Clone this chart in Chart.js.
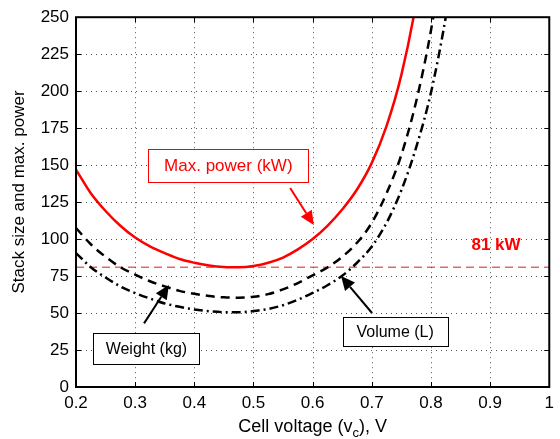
<!DOCTYPE html>
<html>
<head>
<meta charset="utf-8">
<script src="https://cdn.jsdelivr.net/npm/chart.js@4.4.1/dist/chart.umd.min.js"></script>
<style>
  html, body { margin: 0; padding: 0; background: #fff; }
  canvas { display: block; }
</style>
</head>
<body>
<canvas id="stack-chart" width="560" height="439"></canvas>
<script>
// cell voltage (V)
const voltage = [0.2, 0.225, 0.25, 0.275, 0.3, 0.325, 0.35, 0.375, 0.4, 0.425, 0.45, 0.475, 0.5,
    0.525, 0.55, 0.575, 0.6, 0.625, 0.65, 0.675, 0.7, 0.725, 0.75, 0.775, 0.8, 0.825, 0.85];

// max. power (kW)
const maxPower = [147, 131, 119, 109, 101, 95, 90.5, 86.5, 84, 82.2, 81.2, 81, 81.8,
    84, 87.5, 93, 100, 109, 120, 133.5, 151.5, 176.5, 211, 260, 329, null, null];

// stack weight (kg)
const weight = [107.5, 96.5, 88, 81, 76, 71.5, 68, 65, 63, 61.5, 60.6, 60.4, 61,
    62.8, 66, 70.3, 75.5, 80.8, 88, 97.5, 111, 131, 157, 193, 241, 305, null];

// stack volume (L)
const volume = [90.5, 81, 74, 68, 63.5, 59.8, 56.5, 54.2, 52.4, 51.2, 50.6, 50.6, 51.3,
    52.8, 55.3, 59, 63.6, 68.8, 75.2, 84, 95, 111, 133, 162, 199, 250, 315];

const powerLimit = 81;
const xTicks = [0.2, 0.3, 0.4, 0.5, 0.6, 0.7, 0.8, 0.9, 1];
const yTicks = [0, 25, 50, 75, 100, 125, 150, 175, 200, 225, 250];

const FONT = '"Liberation Sans", Arial, Helvetica, sans-serif';

// labels and arrows, in data coordinates
const boxes = [
    { text: 'Max. power (kW)', x0: 0.322, x1: 0.593, y0: 161, y1: 138.5, color: '#ff0000', size: 17 },
    { text: 'Weight (kg)', x0: 0.229, x1: 0.409, y0: 36.3, y1: 15.5, color: '#000', size: 16 },
    { text: 'Volume (L)', x0: 0.651, x1: 0.828, y0: 47.1, y1: 27.2, color: '#000', size: 16 }
];
const arrows = [
    { from: [0.562, 134.5], to: [0.602, 109.5], color: '#ff0000' },
    { from: [0.315, 43], to: [0.357, 69], color: '#000' },
    { from: [0.7, 50.2], to: [0.648, 75], color: '#000' }
];

function toPoints(ys) {
    return voltage.map((v, i) => ({ x: v, y: ys[i] }));
}

function drawArrow(ctx, x1, y1, x2, y2, color) {
    let ang = Math.atan2(y2 - y1, x2 - x1);
    let len = 14, half = 6.5;
    let bx = x2 - len * Math.cos(ang), by = y2 - len * Math.sin(ang);
    ctx.strokeStyle = color;
    ctx.fillStyle = color;
    ctx.lineWidth = 2;
    ctx.setLineDash([]);
    ctx.beginPath();
    ctx.moveTo(x1, y1);
    ctx.lineTo(bx, by);
    ctx.stroke();
    ctx.beginPath();
    ctx.moveTo(x2, y2);
    ctx.lineTo(bx + half * Math.sin(ang), by - half * Math.cos(ang));
    ctx.lineTo(bx - half * Math.sin(ang), by + half * Math.cos(ang));
    ctx.closePath();
    ctx.fill();
}

const matlabFrame = {
    id: 'matlabFrame',
    beforeDatasetsDraw(chart) {
        let { ctx, chartArea: a, scales: { x, y } } = chart;
        ctx.save();
        ctx.strokeStyle = '#555';
        ctx.lineWidth = 1;
        ctx.setLineDash([1, 4]);
        xTicks.slice(1, -1).forEach(t => {
            let px = Math.round(x.getPixelForValue(t)) + 0.5;
            ctx.beginPath(); ctx.moveTo(px, a.top); ctx.lineTo(px, a.bottom); ctx.stroke();
        });
        yTicks.slice(1, -1).forEach(t => {
            let py = Math.round(y.getPixelForValue(t)) + 0.5;
            ctx.beginPath(); ctx.moveTo(a.left, py); ctx.lineTo(a.right, py); ctx.stroke();
        });
        ctx.restore();
    },
    afterDatasetsDraw(chart) {
        let { ctx, chartArea: a, scales: { x, y } } = chart;
        ctx.save();

        // box and inner ticks
        ctx.setLineDash([]);
        ctx.strokeStyle = '#000';
        ctx.lineWidth = 1;
        xTicks.forEach(t => {
            let px = Math.round(x.getPixelForValue(t)) + 0.5;
            ctx.beginPath();
            ctx.moveTo(px, a.bottom); ctx.lineTo(px, a.bottom - 5);
            ctx.moveTo(px, a.top); ctx.lineTo(px, a.top + 5);
            ctx.stroke();
        });
        yTicks.forEach(t => {
            let py = Math.round(y.getPixelForValue(t)) + 0.5;
            ctx.beginPath();
            ctx.moveTo(a.left, py); ctx.lineTo(a.left + 5, py);
            ctx.moveTo(a.right, py); ctx.lineTo(a.right - 5, py);
            ctx.stroke();
        });
        ctx.lineWidth = 2;
        ctx.strokeRect(a.left, a.top, a.right - a.left, a.bottom - a.top);

        // text boxes
        boxes.forEach(b => {
            let l = x.getPixelForValue(b.x0), r = x.getPixelForValue(b.x1);
            let t = y.getPixelForValue(b.y0), btm = y.getPixelForValue(b.y1);
            ctx.fillStyle = '#fff';
            ctx.fillRect(l, t, r - l, btm - t);
            ctx.strokeStyle = b.color;
            ctx.lineWidth = 1;
            ctx.strokeRect(Math.round(l) + 0.5, Math.round(t) + 0.5, Math.round(r - l), Math.round(btm - t));
            ctx.fillStyle = b.color;
            ctx.font = b.size + 'px ' + FONT;
            ctx.textAlign = 'center';
            ctx.textBaseline = 'middle';
            ctx.fillText(b.text, (l + r) / 2, (t + btm) / 2 + 1);
        });

        arrows.forEach(ar => {
            drawArrow(ctx, x.getPixelForValue(ar.from[0]), y.getPixelForValue(ar.from[1]),
                x.getPixelForValue(ar.to[0]), y.getPixelForValue(ar.to[1]), ar.color);
        });

        // 81 kW label
        ctx.fillStyle = '#ff0000';
        ctx.font = 'bold 17px ' + FONT;
        ctx.textAlign = 'center';
        ctx.textBaseline = 'middle';
        ctx.fillText(powerLimit + ' kW', x.getPixelForValue(0.91), y.getPixelForValue(96));

        // axis titles
        ctx.fillStyle = '#000';
        ctx.font = '17px ' + FONT;
        ctx.save();
        ctx.translate(19, 192);
        ctx.rotate(-Math.PI / 2);
        ctx.fillText('Stack size and max. power', 0, 0);
        ctx.restore();

        let cx = (a.left + a.right) / 2;
        let base = 432;
        ctx.textBaseline = 'alphabetic';
        ctx.textAlign = 'left';
        let p1 = 'Cell voltage (v', sub = 'c', p2 = '), V';
        ctx.font = '18px ' + FONT;
        let w1 = ctx.measureText(p1).width, w3 = ctx.measureText(p2).width;
        ctx.font = '13px ' + FONT;
        let w2 = ctx.measureText(sub).width;
        let sx = cx - (w1 + w2 + w3) / 2;
        ctx.font = '18px ' + FONT;
        ctx.fillText(p1, sx, base);
        ctx.font = '13px ' + FONT;
        ctx.fillText(sub, sx + w1, base + 5);
        ctx.font = '18px ' + FONT;
        ctx.fillText(p2, sx + w1 + w2, base);

        ctx.restore();
    }
};

let ctx = document.getElementById('stack-chart').getContext('2d');
new Chart(ctx, {
    type: 'line',
    data: {
        datasets: [
            {
                label: 'Max. power (kW)',
                data: toPoints(maxPower),
                borderColor: '#ff0000',
                borderWidth: 2.5,
                cubicInterpolationMode: 'monotone'
            },
            {
                label: 'Weight (kg)',
                data: toPoints(weight),
                borderColor: '#000',
                borderWidth: 2.5,
                borderDash: [9, 6],
                cubicInterpolationMode: 'monotone'
            },
            {
                label: 'Volume (L)',
                data: toPoints(volume),
                borderColor: '#000',
                borderWidth: 2.5,
                borderDash: [9, 4, 2, 4],
                cubicInterpolationMode: 'monotone'
            },
            {
                label: '81 kW',
                data: [{ x: xTicks[0], y: powerLimit }, { x: xTicks[xTicks.length - 1], y: powerLimit }],
                borderColor: 'rgba(220,0,0,0.9)',
                borderWidth: 1,
                borderDash: [8, 5]
            }
        ]
    },
    options: {
        responsive: false,
        animation: false,
        devicePixelRatio: 1,
        layout: { padding: { top: 17, right: 4, left: 0, bottom: 0 } },
        elements: { point: { radius: 0 } },
        plugins: { legend: { display: false }, tooltip: { enabled: false } },
        scales: {
            x: {
                type: 'linear',
                min: 0.2,
                max: 1,
                afterFit: s => { s.height = 52; },
                afterBuildTicks: s => { s.ticks = xTicks.map(v => ({ value: v })); },
                grid: { display: false, drawTicks: false },
                border: { display: false },
                ticks: {
                    color: '#000',
                    padding: 6,
                    maxRotation: 0,
                    autoSkip: false,
                    font: { family: FONT, size: 17 },
                    callback: v => String(Math.round(v * 10) / 10)
                }
            },
            y: {
                min: 0,
                max: 250,
                afterFit: s => { s.width = 76; },
                afterBuildTicks: s => { s.ticks = yTicks.map(v => ({ value: v })); },
                grid: { display: false, drawTicks: false },
                border: { display: false },
                ticks: {
                    color: '#000',
                    padding: 7,
                    autoSkip: false,
                    font: { family: FONT, size: 17 }
                }
            }
        }
    },
    plugins: [matlabFrame]
});
</script>
</body>
</html>
